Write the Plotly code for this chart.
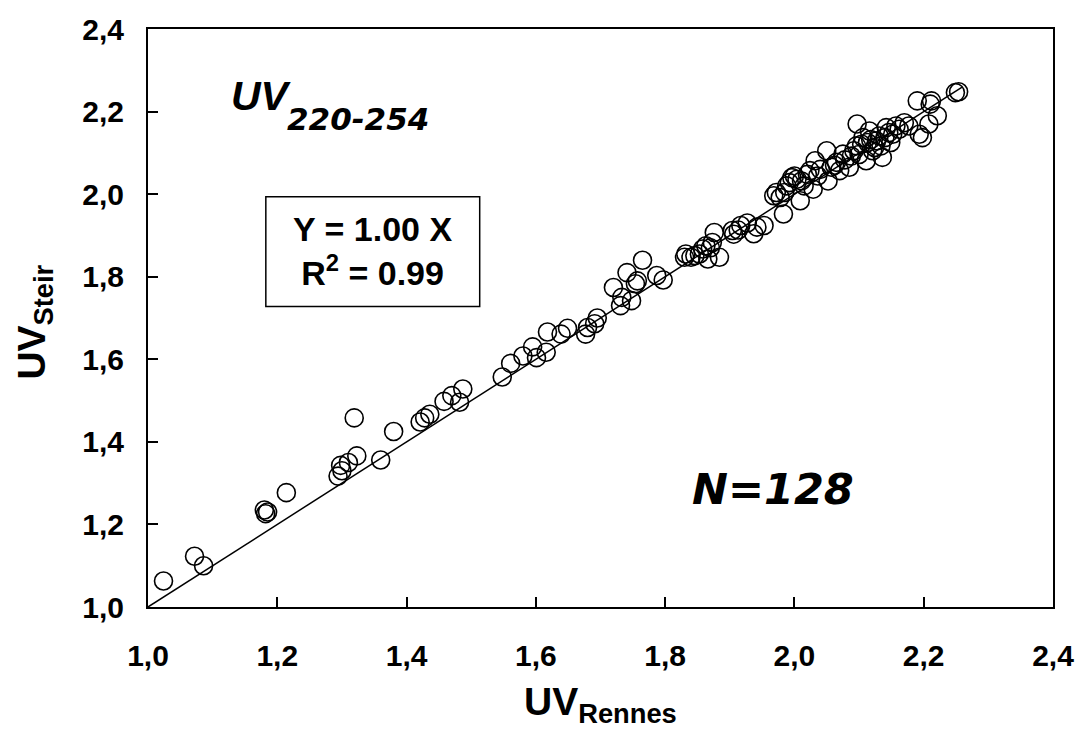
import plotly.graph_objects as go

# UV_Rennes (x) vs UV_Steir (y), N=128
uv_rennes = [
    1.024, 1.072, 1.086, 1.180, 1.182, 1.185, 1.214, 1.294, 1.298, 1.300,
    1.310, 1.323, 1.319, 1.360, 1.380, 1.421, 1.428, 1.436, 1.458, 1.470,
    1.482, 1.487,
    1.548, 1.561, 1.580, 1.595, 1.601, 1.616, 1.618, 1.639, 1.649, 1.677,
    1.680, 1.691, 1.695, 1.720, 1.731, 1.733, 1.741, 1.748, 1.754, 1.757,
    1.765, 1.787, 1.797, 1.830, 1.832, 1.840, 1.853, 1.858, 1.863, 1.866,
    1.873, 1.884, 1.876, 1.904, 1.906, 1.917, 1.927, 1.937, 1.942, 1.953,
    1.983, 1.968, 1.978, 1.988, 1.996, 2.009, 2.011, 2.024, 2.029, 2.032,
    2.050, 2.052, 2.057, 2.065, 2.070, 2.075, 2.085, 2.097, 2.096, 2.106,
    2.111, 2.116, 2.121, 2.131, 2.136, 2.142, 2.149, 2.157, 2.170, 2.177,
    2.190, 2.193, 2.198, 2.208, 2.210, 2.212, 2.221, 2.249, 2.254,
    1.972, 1.985, 1.992, 2.000, 2.004, 2.015, 2.020, 2.036, 2.040, 2.062,
    2.078, 2.088, 2.092, 2.100, 2.104, 2.113, 2.118, 2.124, 2.127, 2.134,
    2.140, 2.146, 2.152, 2.162, 1.846, 1.870, 1.913,
]
uv_steir = [
    1.063, 1.123, 1.100, 1.235, 1.226, 1.230, 1.277, 1.317, 1.343, 1.330,
    1.350, 1.366, 1.458, 1.356, 1.425, 1.448, 1.458, 1.467, 1.498, 1.512,
    1.496, 1.528,
    1.557, 1.590, 1.608, 1.630, 1.604, 1.617, 1.666, 1.661, 1.675, 1.661,
    1.677, 1.686, 1.700, 1.774, 1.730, 1.750, 1.810, 1.742, 1.783, 1.790,
    1.840, 1.803, 1.792, 1.847, 1.855, 1.847, 1.855, 1.867, 1.875, 1.843,
    1.883, 1.847, 1.907, 1.912, 1.903, 1.924, 1.930, 1.904, 1.920, 1.924,
    1.952, 1.996, 1.992, 2.020, 2.040, 1.984, 2.032, 2.057, 2.012, 2.081,
    2.105, 2.032, 2.065, 2.077, 2.057, 2.097, 2.065, 2.170, 2.117, 2.137,
    2.081, 2.153, 2.105, 2.141, 2.089, 2.161, 2.125, 2.165, 2.173, 2.165,
    2.226, 2.145, 2.137, 2.170, 2.218, 2.226, 2.190, 2.246, 2.248,
    2.004, 2.004, 2.028, 2.044, 2.036, 2.020, 2.048, 2.044, 2.060, 2.070,
    2.083, 2.092, 2.105, 2.096, 2.121, 2.125, 2.132, 2.113, 2.129, 2.117,
    2.137, 2.149, 2.145, 2.157, 1.851, 1.870, 1.913,
]

fit_x = [1.0, 2.26]
slope = 1.00
fit_y = [slope * v for v in fit_x]

tick_vals = [1.0, 1.2, 1.4, 1.6, 1.8, 2.0, 2.2, 2.4]
tick_text = ["1,0", "1,2", "1,4", "1,6", "1,8", "2,0", "2,2", "2,4"]

FONT = "Liberation Sans, Arial, sans-serif"
WIDE = "DejaVu Sans, Liberation Sans, sans-serif"
W, H = 1086, 729
ML, MR, MT, MB = 148, 24, 28, 122
PW, PH = W - ML - MR, H - MT - MB


def px(xp):
    return (xp - ML) / PW


def py(yp):
    return (H - MB - yp) / PH


fig = go.Figure()
fig.add_trace(go.Scatter(
    x=fit_x, y=fit_y, mode="lines",
    line=dict(color="black", width=1.5), showlegend=False, hoverinfo="skip",
))
fig.add_trace(go.Scatter(
    x=uv_rennes, y=uv_steir, mode="markers",
    marker=dict(symbol="circle-open", size=18, color="black",
                line=dict(width=1.6)),
    showlegend=False,
))

axis_common = dict(
    tickmode="array", tickvals=tick_vals, ticktext=tick_text,
    range=[1.0, 2.4], ticks="inside", ticklen=10, tickwidth=1.5,
    tickcolor="black", showline=True, linecolor="black", linewidth=2,
    mirror=True, showgrid=False, zeroline=False,
    tickfont=dict(family=FONT, size=30, color="black", weight="bold"),
)

fig.update_layout(
    width=W, height=H,
    margin=dict(l=ML, r=MR, t=MT, b=MB),
    paper_bgcolor="white", plot_bgcolor="white",
    xaxis=dict(**axis_common, ticklabelstandoff=21),
    yaxis=dict(**axis_common, ticklabelstandoff=16),
    font=dict(family=FONT, color="black"),
    shapes=[dict(type="rect", xref="paper", yref="paper",
                 x0=px(267), x1=px(483), y0=py(306), y1=py(196),
                 line=dict(color="black", width=1.5))],
    annotations=[
        dict(text="<b><i>UV</i></b>", xref="paper", yref="paper",
             x=px(230), y=py(95), xanchor="left", yanchor="middle",
             showarrow=False, font=dict(family=FONT, size=41, color="black")),
        dict(text="<b><i>220-254</i></b>", xref="paper", yref="paper",
             x=px(286), y=py(118), xanchor="left", yanchor="middle",
             showarrow=False, font=dict(family=WIDE, size=31, color="black")),
        dict(text="<b>Y = 1.00 X<br>R<sup>2</sup> = 0.99</b>", xref="paper", yref="paper",
             x=px(375), y=py(250), xanchor="center", yanchor="middle",
             showarrow=False, font=dict(family=FONT, size=34, color="black")),
        dict(text="<b><i>N=128</i></b>", xref="paper", yref="paper",
             x=px(779), y=py(489), xanchor="center", yanchor="middle",
             showarrow=False, font=dict(family=WIDE, size=43, color="black")),
        dict(text="<b>UV<sub>Rennes</sub></b>", xref="paper", yref="paper",
             x=px(605), y=py(705), xanchor="center", yanchor="middle",
             showarrow=False, font=dict(family=FONT, size=39, color="black")),
        dict(text="<b>UV<sub>Steir</sub></b>", xref="paper", yref="paper",
             x=px(33), y=py(322), xanchor="center", yanchor="middle",
             textangle=-90,
             showarrow=False, font=dict(family=FONT, size=39, color="black")),
    ],
)

fig.write_html("out.html")
